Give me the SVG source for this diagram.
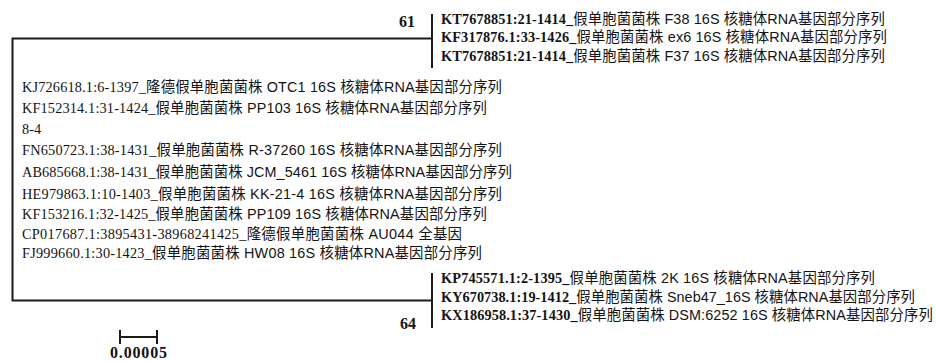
<svg xmlns="http://www.w3.org/2000/svg" width="936" height="361" viewBox="0 0 936 361">
<style>
text{fill:#141414;font-size:14px}
.id{font-family:"Liberation Serif","Noto Sans CJK SC",serif;font-size:14.3px}
.b .id{font-weight:bold}
.zh{font-family:"Liberation Sans","Noto Sans CJK SC",sans-serif;font-size:14.4px}
.bs{font-family:"Liberation Serif",serif;font-weight:bold;font-size:16px}
.ln{stroke:#1a1a1a;stroke-width:2;fill:none}
</style>
<rect width="936" height="361" fill="#fff"/>
<g id="connectors">
<path class="ln" d="M12.5 38.5V300.5M11.5 38.5H432M11.5 300.5H432"/>
<path class="ln" d="M432 14V68"/>
<path class="ln" d="M432 273V328"/>
</g>
<g id="clade-61" class="b">
<text class="bs" x="415" y="27" text-anchor="end">61</text>
<text x="441" y="24" textLength="444"><tspan class="id">KT7678851:21-1414_</tspan><tspan class="zh">假单胞菌菌株 F38 16S 核糖体RNA基因部分序列</tspan></text>
<text x="441" y="42" textLength="446"><tspan class="id">KF317876.1:33-1426_</tspan><tspan class="zh">假单胞菌菌株 ex6 16S 核糖体RNA基因部分序列</tspan></text>
<text x="441" y="61" textLength="444"><tspan class="id">KT7678851:21-1414_</tspan><tspan class="zh">假单胞菌菌株 F37 16S 核糖体RNA基因部分序列</tspan></text>
</g>
<g id="root-taxa">
<text x="22" y="92" textLength="480"><tspan class="id">KJ726618.1:6-1397_</tspan><tspan class="zh">隆德假单胞菌菌株 OTC1 16S 核糖体RNA基因部分序列</tspan></text>
<text x="22" y="113" textLength="465"><tspan class="id">KF152314.1:31-1424_</tspan><tspan class="zh">假单胞菌菌株 PP103 16S 核糖体RNA基因部分序列</tspan></text>
<text class="id" x="22" y="134">8-4</text>
<text x="22" y="155" textLength="480"><tspan class="id">FN650723.1:38-1431_</tspan><tspan class="zh">假单胞菌菌株 R-37260 16S 核糖体RNA基因部分序列</tspan></text>
<text x="22" y="177" textLength="490"><tspan class="id">AB685668.1:38-1431_</tspan><tspan class="zh">假单胞菌菌株 JCM_5461 16S 核糖体RNA基因部分序列</tspan></text>
<text x="22" y="199" textLength="480"><tspan class="id">HE979863.1:10-1403_</tspan><tspan class="zh">假单胞菌菌株 KK-21-4 16S 核糖体RNA基因部分序列</tspan></text>
<text x="22" y="219" textLength="465"><tspan class="id">KF153216.1:32-1425_</tspan><tspan class="zh">假单胞菌菌株 PP109 16S 核糖体RNA基因部分序列</tspan></text>
<text x="22" y="239" textLength="440"><tspan class="id">CP017687.1:3895431-38968241425_</tspan><tspan class="zh">隆德假单胞菌菌株 AU044 全基因</tspan></text>
<text x="22" y="258" textLength="460"><tspan class="id">FJ999660.1:30-1423_</tspan><tspan class="zh">假单胞菌菌株 HW08 16S 核糖体RNA基因部分序列</tspan></text>
</g>
<g id="clade-64" class="b">
<text class="bs" x="416" y="329" text-anchor="end">64</text>
<text x="441" y="283" textLength="434"><tspan class="id">KP745571.1:2-1395_</tspan><tspan class="zh">假单胞菌菌株 2K 16S 核糖体RNA基因部分序列</tspan></text>
<text x="441" y="302" textLength="474"><tspan class="id">KY670738.1:19-1412_</tspan><tspan class="zh">假单胞菌菌株 Sneb47_16S 核糖体RNA基因部分序列</tspan></text>
<text x="441" y="320" textLength="492"><tspan class="id">KX186958.1:37-1430_</tspan><tspan class="zh">假单胞菌菌株 DSM:6252 16S 核糖体RNA基因部分序列</tspan></text>
</g>
<g id="scale-bar">
<path class="ln" d="M120 337H157M120 330V344M157 330V344" stroke-width="1.6"/>
<text class="bs" x="138.5" y="358" text-anchor="middle" textLength="57">0.00005</text>
</g>
</svg>
